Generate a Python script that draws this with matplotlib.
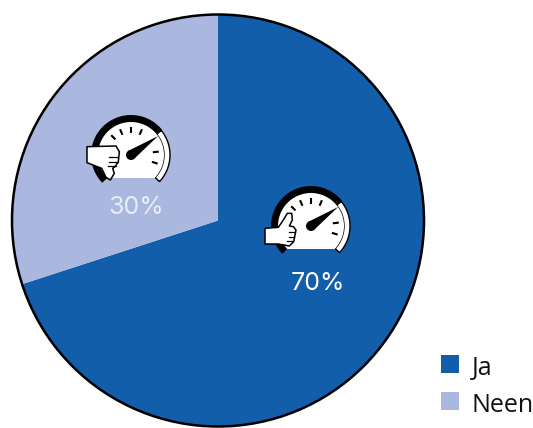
import numpy as np
import matplotlib
matplotlib.use("Agg")
import matplotlib.pyplot as plt
from matplotlib.patches import Polygon, Circle, Rectangle

labels = ["Ja", "Neen"]
values = [70, 30]
colors = ["#125EAB", "#AAB7DE"]
pct_labels = ["70%", "30%"]

W, H = 533, 428
plt.rcParams['font.family'] = ['Open Sans', 'DejaVu Sans']

# hand outlines, pixels relative to the gauge hub (y grows downwards)
thumb_up = np.array([(45, 175), (85, 172), (100, 150), (112, 130), (125, 130), (127, 150),
                     (118, 168), (130, 170), (138, 180), (134, 200), (131, 215), (118, 228),
                     (85, 222), (45, 222)], dtype=float)
thumb_up = (thumb_up - (183, 168)) / 3
thumb_down = np.array([(48, 130), (135, 128), (145, 145), (142, 175), (132, 190), (125, 195),
                       (130, 210), (118, 230), (105, 222), (92, 195), (48, 178)], dtype=float)
thumb_down = (thumb_down - (180, 155)) / 3


def yy(y):
    return H - y


def flip(pts):
    pts = np.array(pts, dtype=float)
    pts[:, 1] = H - pts[:, 1]
    return pts


def band(cx, cy, r0, r1, a0, a1):
    a = np.radians(np.linspace(a0, a1, 60))
    outer = np.c_[cx + r1 * np.cos(a), cy - r1 * np.sin(a)]
    inner = np.c_[cx + r0 * np.cos(a[::-1]), cy - r0 * np.sin(a[::-1])]
    return flip(np.vstack([outer, inner]))


def draw_gauge(ax, cx, cy, hand, fingers):
    # black arc, white arc, then the flat bottomed dial
    ax.add_patch(Polygon(band(cx, cy, 32, 40, 39, 224), fc="black", ec="none", zorder=3))
    ax.add_patch(Polygon(band(cx, cy, 33, 39, -43, 39), fc="white", ec="black", lw=1, zorder=3))
    cut = np.degrees(np.arcsin(23 / 33.0))
    a = np.radians(np.linspace(-cut, 180 + cut, 80))
    ax.add_patch(Polygon(flip(np.c_[cx + 33 * np.cos(a), cy - 33 * np.sin(a)]),
                         fc="white", ec="none", zorder=4))
    for t in [135, 113, 90, 67, 7, -18]:
        r = np.radians(t)
        ax.plot([cx + 22 * np.cos(r), cx + 28 * np.cos(r)],
                [yy(cy - 22 * np.sin(r)), yy(cy - 28 * np.sin(r))],
                color="black", lw=1.5, zorder=5, solid_capstyle="butt")
    # needle
    r = np.radians(35)
    n = np.array([np.cos(r), np.sin(r)])
    p = np.array([-n[1], n[0]])
    hub = np.array([cx, yy(cy)])
    ax.add_patch(Polygon([hub + p * 5, hub + n * 33, hub - p * 5], fc="black", ec="none", zorder=6))
    ax.add_patch(Circle(hub, 5, fc="black", ec="none", zorder=6))
    ax.add_patch(Polygon(flip(hand + (cx, cy)), fc="white", ec="black", lw=1.1, joinstyle="round", zorder=7))
    for x0, x1, y0 in fingers:
        ax.plot([cx + x0, cx + x1], [yy(cy + y0), yy(cy + y0)], color="black", lw=0.9, zorder=8)


fig = plt.figure(figsize=(W / 100, H / 100), dpi=100)
ax = fig.add_axes([0, 0, 1, 1])
ax.pie(values, colors=colors, startangle=90, counterclock=False,
       center=(218, yy(220.5)), radius=206, frame=True)
ax.add_patch(Circle((218, yy(220.5)), 206, fc="none", ec="black", lw=1.8, zorder=2))
ax.set_xlim(0, W)
ax.set_ylim(0, H)
ax.set_aspect("equal")
ax.axis("off")

draw_gauge(ax, 311, 226, thumb_up, [(-22, -16, 6), (-22, -17, 11), (-24, -18, 15)])
draw_gauge(ax, 131, 155, thumb_down, [(-22, -13, 2), (-22, -13, 7), (-23, -15, 11)])

ax.text(318, yy(283.5), pct_labels[0], color="white", fontsize=18, family="Inter", ha="center", va="center", zorder=9)
ax.text(136, yy(207), pct_labels[1], color="#E9EDF8", fontsize=18, family="Inter", ha="center", va="center", zorder=9)

# legend
for lab, col, y in zip(labels, colors, [364, 401]):
    ax.add_patch(Rectangle((441, yy(y + 9)), 18, 18, fc=col, ec="none"))
    ax.text(472, yy(y + 1), lab, color="#111111", fontsize=18, ha="left", va="center_baseline")

fig.savefig("out.png", dpi=100)
